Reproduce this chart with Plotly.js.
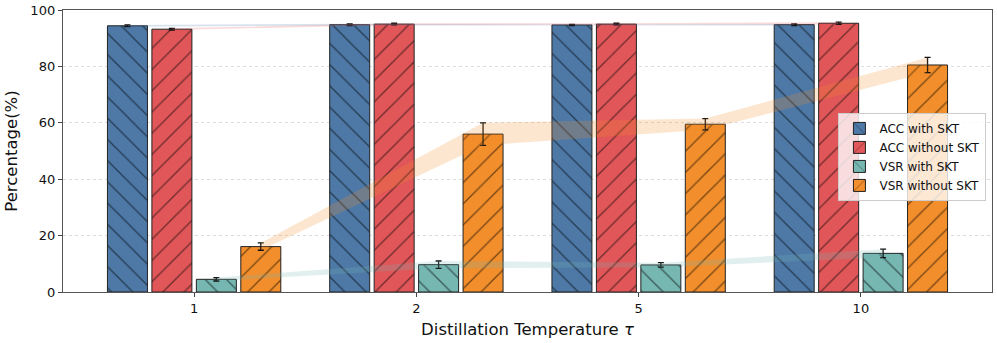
<!DOCTYPE html>
<html>
<head>
<meta charset="utf-8">
<script src="https://cdn.plot.ly/plotly-3.0.1.min.js"></script>
<style>
  html, body { margin: 0; padding: 0; background: #fff; }
  #chart { width: 997px; height: 343px; }
</style>
</head>
<body>
<div id="chart"></div>
<script>
// temperatures on the x axis
const temps = ['1', '2', '5', '10'];

// means and std per series
const accWith = [94.4, 94.8, 94.7, 94.8];
const accWithErr = [0.3, 0.3, 0.2, 0.3];
const accWithout = [93.2, 95.0, 95.0, 95.3];
const accWithoutErr = [0.3, 0.3, 0.3, 0.4];
const vsrWith = [4.5, 9.7, 9.6, 13.7];
const vsrWithErr = [0.6, 1.3, 0.8, 1.5];
const vsrWithout = [16.1, 56.0, 59.5, 80.5];
const vsrWithoutErr = [1.3, 4.0, 2.0, 2.7];

const series = [
    { name: 'ACC with SKT', y: accWith, err: accWithErr, color: '#4E79A7', band: 'rgba(78,121,167,0.22)', hatch: '\\', off: -0.3 },
    { name: 'ACC without SKT', y: accWithout, err: accWithoutErr, color: '#E15759', band: 'rgba(225,87,89,0.22)', hatch: '/', off: -0.1 },
    { name: 'VSR with SKT', y: vsrWith, err: vsrWithErr, color: '#76B7B2', band: 'rgba(118,183,178,0.22)', hatch: '\\', off: 0.1 },
    { name: 'VSR without SKT', y: vsrWithout, err: vsrWithoutErr, color: '#F28E2B', band: 'rgba(242,142,43,0.22)', hatch: '/', off: 0.3 }
];

const barWidth = 0.18;
const traces = [];

series.forEach(s => {
    const xs = temps.map((t, i) => i + s.off);
    traces.push({
        type: 'bar',
        name: s.name,
        x: xs,
        y: s.y,
        width: barWidth,
        marker: {
            color: s.color,
            line: { color: '#222', width: 1 },
            pattern: { shape: s.hatch, fgcolor: '#000', bgcolor: s.color, size: 15, solidity: 0.09, fillmode: 'overlay' }
        },
        error_y: { type: 'data', array: s.err, visible: true, color: '#111', thickness: 1.3, width: 3 },
        hoverinfo: 'skip'
    });
});

// shaded mean +/- std bands joining bar tops
series.forEach(s => {
    const xs = temps.map((t, i) => i + s.off);
    const upper = s.y.map((v, i) => v + s.err[i]);
    const lower = s.y.map((v, i) => v - s.err[i]);
    traces.push({
        type: 'scatter',
        mode: 'lines',
        x: xs.concat(xs.slice().reverse()),
        y: upper.concat(lower.slice().reverse()),
        fill: 'toself',
        fillcolor: s.band,
        line: { width: 0, color: s.band },
        showlegend: false,
        hoverinfo: 'skip'
    });
});

const layout = {
    width: 997,
    height: 343,
    margin: { l: 63, r: 5, t: 10, b: 51 },
    paper_bgcolor: '#fff',
    plot_bgcolor: '#fff',
    font: { family: 'DejaVu Sans', size: 13, color: '#111' },
    barmode: 'overlay',
    showlegend: true,
    legend: {
        x: 0.994, xanchor: 'right',
        y: 0.635, yanchor: 'top',
        bgcolor: 'rgba(255,255,255,0.8)',
        bordercolor: '#ccc',
        borderwidth: 1,
        font: { size: 12, color: '#111' },
        tracegroupgap: 0,
        itemwidth: 30
    },
    xaxis: {
        range: [-0.59, 3.59],
        tickvals: [0, 1, 2, 3],
        ticktext: temps,
        ticks: 'outside',
        ticklen: 4,
        tickcolor: '#444',
        showgrid: false,
        zeroline: false,
        showline: true,
        mirror: true,
        linecolor: '#555',
        linewidth: 1.2,
        tickfont: { size: 13 },
        title: { text: 'Distillation Temperature <i>τ</i>', font: { size: 16.5 }, standoff: 8 }
    },
    yaxis: {
        range: [0, 100],
        tickvals: [0, 20, 40, 60, 80, 100],
        ticks: 'outside',
        ticklen: 4,
        tickcolor: '#444',
        showgrid: true,
        gridcolor: '#ddd',
        griddash: 'dot',
        zeroline: false,
        showline: true,
        mirror: true,
        linecolor: '#555',
        linewidth: 1.2,
        tickfont: { size: 13 },
        title: { text: 'Percentage(%)', font: { size: 16.5 }, standoff: 8 }
    }
};

Plotly.newPlot('chart', traces, layout, { displayModeBar: false, staticPlot: true });
</script>
</body>
</html>
